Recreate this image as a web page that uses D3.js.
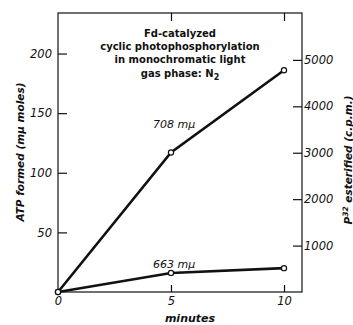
<!DOCTYPE html>
<html><head><meta charset="utf-8">
<script src="https://cdn.jsdelivr.net/npm/d3@7"></script>
<style>
body{margin:0;background:#fff;}
text{font-family:"DejaVu Sans",sans-serif;fill:#111;}
</style></head><body>
<svg id="c" width="353" height="325"></svg>
<script>
const minutes = [0, 5, 10];
const atp708 = [0, 117, 186];
const atp663 = [0, 16, 20];
const leftTicks = [50, 100, 150, 200];
const rightTicks = [1000, 2000, 3000, 4000, 5000];
const xTicks = [0, 5, 10];
const titleLines = ["Fd-catalyzed", "cyclic photophosphorylation", "in monochromatic light"];

const svg = d3.select("#c");
const L = 58, R = 302, T = 13, B = 292;
const x = d3.scaleLinear().domain([0, 10]).range([L, 284]);
const yL = d3.scaleLinear().domain([0, 234]).range([B, T]);
const yR = d3.scaleLinear().domain([0, 6010]).range([B, T]);

// frame
svg.append("rect").attr("x", L).attr("y", T).attr("width", R - L).attr("height", B - T)
  .attr("fill", "none").attr("stroke", "#111").attr("stroke-width", 1.2);

// left axis
const gl = svg.append("g").attr("transform", `translate(${L},0)`)
  .call(d3.axisLeft(yL).tickValues(leftTicks).tickSize(-9).tickPadding(6).tickFormat(d3.format("d")));
// right axis
const gr = svg.append("g").attr("transform", `translate(${R},0)`)
  .call(d3.axisRight(yR).tickValues(rightTicks).tickSize(-9).tickPadding(2).tickFormat(d3.format("d")));
// bottom axis
const gb = svg.append("g").attr("transform", `translate(0,${B})`)
  .call(d3.axisBottom(x).tickValues(xTicks).tickSize(-7).tickPadding(5).tickFormat(d3.format("d")));
// top ticks
const gt = svg.append("g").attr("transform", `translate(0,${T})`)
  .call(d3.axisTop(x).tickValues([5, 10]).tickSize(-8).tickFormat(""));
[gl, gr, gb, gt].forEach(g => {
  g.select(".domain").remove();
  g.selectAll(".tick line").attr("stroke", "#111").attr("stroke-width", 1.2);
  g.selectAll(".tick text").attr("font-size", 11.5).attr("font-style", "italic")
    .attr("font-family", "DejaVu Sans").attr("fill", "#111");
});
gb.selectAll(".tick line").filter(d => d === 0).remove();

// lines
const line = d3.line().x((d, i) => x(minutes[i])).y(d => yL(d));
[atp708, atp663].forEach(s => {
  svg.append("path").datum(s).attr("d", line).attr("fill", "none")
    .attr("stroke", "#111").attr("stroke-width", 2.6);
  svg.selectAll(null).data(s).enter().append("circle")
    .attr("cx", (d, i) => x(minutes[i])).attr("cy", d => yL(d)).attr("r", 2.6)
    .attr("fill", "#fff").attr("stroke", "#111").attr("stroke-width", 1.2);
});

// series labels
svg.append("text").attr("x", 153).attr("y", 128).attr("font-size", 11)
  .attr("font-style", "italic").text("708 mμ");
svg.append("text").attr("x", 153).attr("y", 268).attr("font-size", 11)
  .attr("font-style", "italic").text("663 mμ");

// title
const cx = 180;
titleLines.forEach((t, i) => {
  svg.append("text").attr("x", cx).attr("y", 37 + i * 13).attr("text-anchor", "middle")
    .attr("font-size", 10).attr("font-weight", "bold").text(t);
});
const g4 = svg.append("text").attr("x", cx).attr("y", 77).attr("text-anchor", "middle")
  .attr("font-size", 10).attr("font-weight", "bold");
g4.append("tspan").text("gas phase: N");
g4.append("tspan").attr("dy", 3).attr("font-size", 8).text("2");

// axis titles
svg.append("text").attr("transform", "translate(24,152) rotate(-90)").attr("text-anchor", "middle")
  .attr("font-size", 10.5).attr("font-style", "italic").attr("font-weight", "bold")
  .text("ATP formed (mμ moles)");
const rt = svg.append("text").attr("transform", "translate(352,160) rotate(-90)").attr("text-anchor", "middle")
  .attr("font-size", 10.5).attr("font-style", "italic").attr("font-weight", "bold");
rt.append("tspan").text("P");
rt.append("tspan").attr("dy", -4).attr("font-size", 7.5).text("32");
rt.append("tspan").attr("dy", 4).text(" esterified (c.p.m.)");

svg.append("text").attr("x", 190).attr("y", 322).attr("text-anchor", "middle")
  .attr("font-size", 11).attr("font-style", "italic").attr("font-weight", "bold").text("minutes");
</script></body></html>
